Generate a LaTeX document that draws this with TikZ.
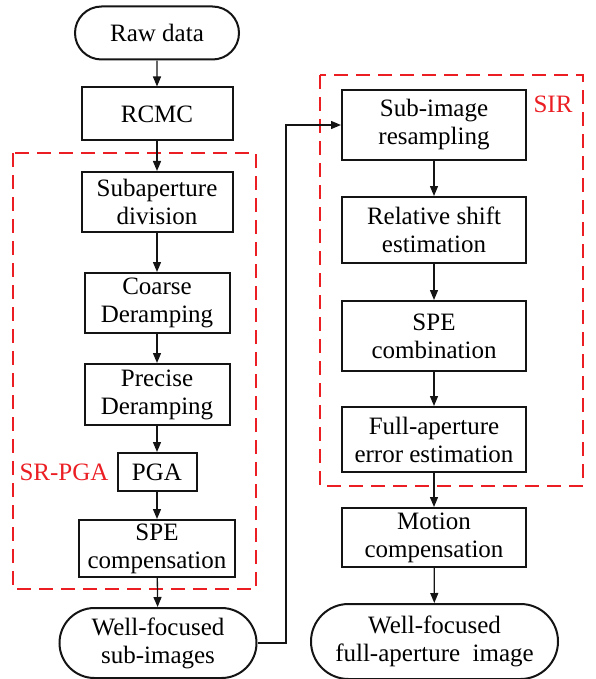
\documentclass[tikz,border=0pt]{standalone}
\usepackage{fontspec}
\setmainfont{Liberation Serif}
\usetikzlibrary{arrows.meta,positioning,shapes.misc}
\definecolor{ink}{RGB}{20,20,20}
\definecolor{alarm}{RGB}{235,30,35}
\tikzset{
  >={Triangle[length=10pt,width=8pt]},
  block/.style={draw=ink,line width=2pt,minimum width=#1,align=center,
    inner sep=1pt,font=\fontsize{25}{28}\selectfont},
  block/.default=184pt,
  terminal/.style={rounded rectangle,draw=ink,line width=2pt,minimum width=#1,
    align=center,inner sep=1pt,font=\fontsize{25}{28}\selectfont},
  flow/.style={->,line width=1.3pt,draw=ink},
  group/.style={draw=alarm,line width=2pt,dash pattern=on 14pt off 8pt},
  grouptag/.style={text=alarm,font=\fontsize{25}{28}\selectfont},
}
\begin{document}
\begin{tikzpicture}[x=1pt,y=-1pt]
  \useasboundingbox (0,0) rectangle (595,679);
  % dashed groups
  \draw[group] (13,153) rectangle (256,589);
  \draw[group] (320,75) rectangle (583,486);
  \node[grouptag] (srpga) at (64,472) {SR-PGA};
  \node[grouptag] (sir) at (553,104) {SIR};
  % left column
  \node[terminal=166pt,minimum height=53pt] (raw) at (157,33) {Raw data};
  \node[block=151pt,minimum height=53pt] (rcmc) at (157,114) {RCMC};
  \node[block=151pt,minimum height=60pt] (subdiv) at (157,202) {Subaperture\\division};
  \node[block=145pt,minimum height=60pt] (coarse) at (157,303) {Coarse\\Deramping};
  \node[block=145pt,minimum height=61pt] (precise) at (157,394.5) {Precise\\Deramping};
  \node[block=79pt,minimum height=38pt] (pga) at (157,472) {PGA};
  \node[block=156pt,minimum height=57pt] (spec) at (157,548.5) {SPE\\compensation};
  \node[terminal=199pt,minimum height=70pt] (wfsub) at (158,643) {Well-focused\\sub-images};
  % right column
  \node[block,minimum height=70pt] (resamp) at (434,125) {Sub-image\\resampling};
  \node[block,minimum height=66pt] (shift) at (434,230) {Relative shift\\estimation};
  \node[block,minimum height=70pt] (spcomb) at (434,336) {SPE\\combination};
  \node[block,minimum height=65pt] (fullerr) at (434,439.5) {Full-aperture\\error estimation};
  \node[block,minimum height=59pt] (motion) at (434,537.5) {Motion\\compensation};
  \node[terminal=249pt,minimum height=75pt] (wffull) at (434.5,641.5) {Well-focused\\full-aperture\ \ image};
  % connectors
  \draw[flow] (raw) -- (rcmc);
  \draw[flow] (rcmc) -- (subdiv);
  \draw[flow] (subdiv) -- (coarse);
  \draw[flow] (coarse) -- (precise);
  \draw[flow] (precise) -- (pga);
  \draw[flow] (pga) -- (spec);
  \draw[flow] (spec) -- (wfsub);
  \coordinate (turn) at (286,643);
  \draw[flow] (wfsub.east) -- (turn) |- (resamp.west);
  \draw[flow] (resamp) -- (shift);
  \draw[flow] (shift) -- (spcomb);
  \draw[flow] (spcomb) -- (fullerr);
  \draw[flow] (fullerr) -- (motion);
  \draw[flow] (motion) -- (wffull);
\end{tikzpicture}
\end{document}
